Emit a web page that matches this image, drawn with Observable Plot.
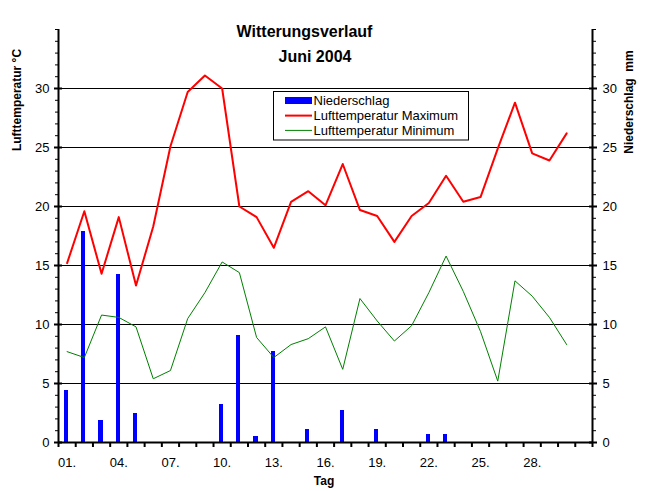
<!DOCTYPE html>
<html><head><meta charset="utf-8">
<script src="https://cdn.jsdelivr.net/npm/d3@7"></script>
<script src="https://cdn.jsdelivr.net/npm/@observablehq/plot@0.6"></script>
<style>body{margin:0;background:#fff}</style>
</head><body><div id="chart"></div>
<script>
const days = [1,2,3,4,5,6,7,8,9,10,11,12,13,14,15,16,17,18,19,20,21,22,23,24,25,26,27,28,29,30];
const niederschlag = [4.4,17.9,1.9,14.2,2.5,0,0,0,0,3.2,9.1,0.5,7.7,0,1.1,0,2.7,0,1.1,0,0,0.65,0.65,0,0,0,0,0,0,0];
const tmax = [15.2,19.6,14.3,19.1,13.3,18.3,25.1,29.7,31.1,30.0,20.0,19.1,16.5,20.4,21.3,20.1,23.6,19.7,19.2,17.0,19.2,20.3,22.6,20.4,20.8,24.9,28.8,24.5,23.9,26.2];
const tmin = [7.7,7.2,10.8,10.6,9.8,5.4,6.1,10.5,12.7,15.3,14.4,8.9,7.2,8.3,8.8,9.8,6.2,12.2,10.3,8.6,9.9,12.7,15.8,12.8,9.4,5.2,13.7,12.4,10.6,8.3];
const xLabelDays = [1,4,7,10,13,16,19,22,25,28];
const xBoundaries = d3.range(0.5, 32, 1);
const yMajor = [0,5,10,15,20,25,30];
const yMinor = d3.range(0, 36, 1);
const yGrid = [5,10,15,20,25,30];
const legendItems = [
  {label: "Niederschlag", kind: "rect", color: "#0000ff"},
  {label: "Lufttemperatur Maximum", kind: "line2", color: "#ff0000"},
  {label: "Lufttemperatur Minimum", kind: "line1", color: "#008000"}
];

const data = days.map((d, i) => ({day: d, p: niederschlag[i], tmax: tmax[i], tmin: tmin[i]}));
const FONT = "Liberation Sans, Arial, Helvetica, sans-serif";

const chart = Plot.plot({
  width: 646, height: 491,
  marginLeft: 58, marginRight: 54, marginTop: 29, marginBottom: 49,
  style: {fontFamily: FONT, fontSize: "13px", background: "#fff", color: "#000"},
  x: {type: "linear", domain: [0.5, 31.5], axis: null},
  y: {domain: [0, 35], axis: null},
  marks: [
    Plot.ruleY(yGrid, {stroke: "#000", strokeWidth: 1}),
    Plot.rectY(data, {x1: d => d.day - 0.5, x2: d => d.day + 0.5, y: "p", fill: "#0000ff", insetLeft: 6, insetRight: 7, shapeRendering: "crispEdges"}),
    Plot.line(data, {x: "day", y: "tmin", stroke: "#008000", strokeWidth: 1}),
    Plot.line(data, {x: "day", y: "tmax", stroke: "#ff0000", strokeWidth: 2}),
    Plot.ruleY([0], {stroke: "#000", strokeWidth: 2}),
    Plot.ruleX([0.5, 31.5], {stroke: "#000", strokeWidth: 2}),
    Plot.axisY(yMinor, {anchor: "left", tickSize: 3, text: null, label: null}),
    Plot.axisY(yMajor, {anchor: "left", tickSize: 4, strokeWidth: 2, text: null, label: null}),
    Plot.axisY(yMajor, {anchor: "left", tickSize: 4, dx: 4, strokeWidth: 2, text: null, label: null}),
    Plot.axisY(yMajor, {anchor: "left", tickSize: 0, tickPadding: 9, label: null, fontSize: 13}),
    Plot.axisY(yMinor, {anchor: "right", tickSize: 3, text: null, label: null}),
    Plot.axisY(yMajor, {anchor: "right", tickSize: 4, strokeWidth: 2, text: null, label: null}),
    Plot.axisY(yMajor, {anchor: "right", tickSize: 4, dx: -4, strokeWidth: 2, text: null, label: null}),
    Plot.axisY(yMajor, {anchor: "right", tickSize: 0, tickPadding: 10, label: null, fontSize: 13}),
    Plot.axisX(xBoundaries, {anchor: "bottom", tickSize: 5, strokeWidth: 2, text: null, label: null}),
    Plot.axisX(xLabelDays, {anchor: "bottom", tickSize: 0, tickPadding: 15, label: null, fontSize: 13,
      tickFormat: d => String(d).padStart(2, "0") + "."})
  ]
});
document.getElementById("chart").appendChild(chart);

const svg = d3.select(chart);
const g = svg.append("g").attr("font-family", FONT).attr("fill", "#000");
// Titles
g.append("text").attr("x", 304.5).attr("y", 37).attr("text-anchor", "middle")
  .attr("font-weight", "bold").attr("font-size", 16).text("Witterungsverlauf");
g.append("text").attr("x", 315).attr("y", 61.5).attr("text-anchor", "middle")
  .attr("font-weight", "bold").attr("font-size", 16).text("Juni 2004");
// Axis labels
g.append("text").attr("transform", "translate(20.5,100) rotate(-90)").attr("text-anchor", "middle")
  .attr("font-weight", "bold").attr("font-size", 12).text("Lufttemperatur °C");
g.append("text").attr("transform", "translate(632.5,102) rotate(-90)").attr("text-anchor", "middle")
  .attr("font-weight", "bold").attr("font-size", 12).style("white-space", "pre").text("Niederschlag  mm");
g.append("text").attr("x", 324).attr("y", 484.5).attr("text-anchor", "middle")
  .attr("font-weight", "bold").attr("font-size", 12).text("Tag");
// Legend
const lg = g.append("g");
lg.append("rect").attr("x", 273.5).attr("y", 91.5).attr("width", 195).attr("height", 48.5)
  .attr("fill", "#fff").attr("stroke", "#000").attr("stroke-width", 1);
legendItems.forEach((it, i) => {
  const cy = 100.8 + i * 14.8;
  if (it.kind === "rect") {
    lg.append("rect").attr("x", 285).attr("y", cy - 3.5).attr("width", 27).attr("height", 7)
      .attr("fill", it.color).attr("shape-rendering", "crispEdges");
  } else {
    lg.append("line").attr("x1", 285).attr("x2", 312).attr("y1", cy).attr("y2", cy)
      .attr("stroke", it.color).attr("stroke-width", it.kind === "line2" ? 2 : 1);
  }
  lg.append("text").attr("x", 313.5).attr("y", cy + 4.5).attr("text-anchor", "start")
    .attr("font-size", 13).text(it.label);
});
</script>
</body></html>
